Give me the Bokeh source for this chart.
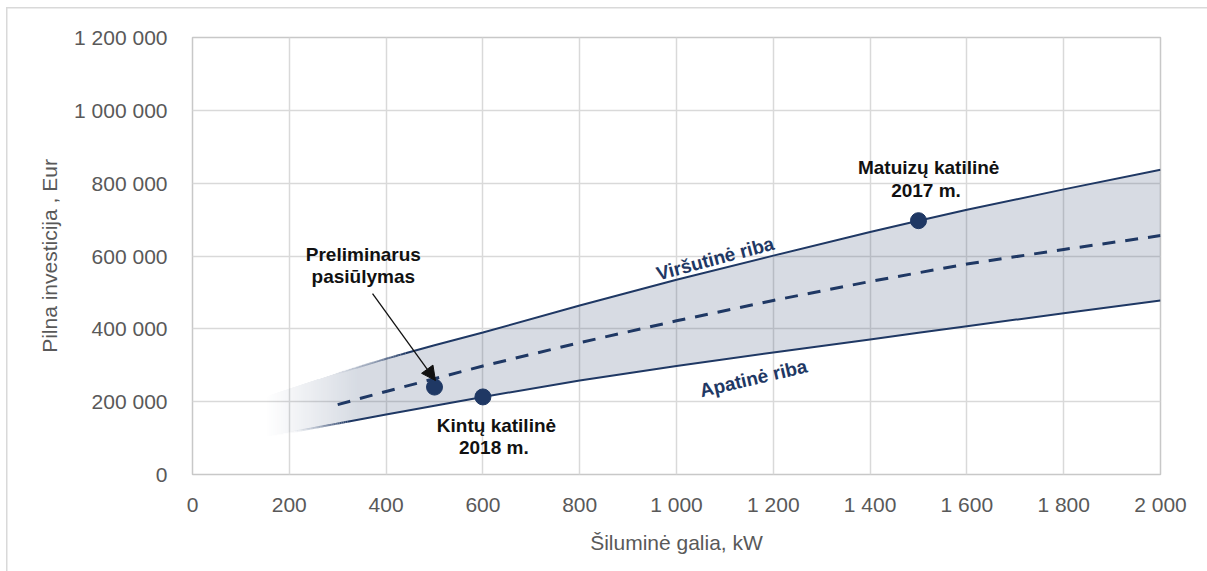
import numpy as np
from bokeh.plotting import figure
from bokeh.models import Range1d, FixedTicker, Arrow, NormalHead
from bokeh.core.properties import value
from bokeh.embed import file_html
from bokeh.resources import INLINE

# ---- data ----
band_x = [150, 200, 300, 400, 500, 600, 800, 1000, 1200, 1400, 1500, 1600, 1800, 2000]
upper = [212e3, 235e3, 278e3, 318e3, 355e3, 390e3, 464e3, 535e3, 601e3, 666e3, 697e3, 727e3, 783e3, 837e3]
lower = [102e3, 115e3, 140e3, 165e3, 189e3, 213e3, 258e3, 298e3, 335e3, 371e3, 389e3, 407e3, 443e3, 478e3]

mid_x = [300, 400, 600, 800, 1000, 1200, 1400, 1600, 1800, 2000]
mid = [192e3, 228e3, 298e3, 362e3, 422e3, 478e3, 530e3, 578e3, 618e3, 656e3]

pts_x = [500, 600, 1500]
pts_y = [240e3, 213e3, 697e3]

lbl_x = [353, 353, 628, 628, 1521, 1521]
lbl_y = [604e3, 544e3, 135e3, 74e3, 843e3, 780e3]
lbl_t = ["Preliminarus", "pasiūlymas", "Kintų katilinė", "2018  m.", "Matuizų katilinė", "2017  m."]

riba_x = [1080, 1159]
riba_y = [593e3, 264e3]
riba_t = ["Viršutinė riba", "Apatinė riba"]
riba_ang = [0.262, 0.232]

arrow_from = (372, 497e3)
arrow_to = (502, 258e3)

x_ticks = [0, 200, 400, 600, 800, 1000, 1200, 1400, 1600, 1800, 2000]
x_tick_labels = ["0", "200", "400", "600", "800", "1 000", "1 200", "1 400", "1 600", "1 800", "2 000"]
y_ticks = [0, 200000, 400000, 600000, 800000, 1000000, 1200000]
y_tick_labels = ["0", "200 000", "400 000", "600 000", "800 000", "1 000 000", "1 200 000"]

NAVY = "#1F3864"
GRID = "#D9D9D9"
TXT = "#595959"
FONT = "Liberation Sans"

p = figure(width=1207, height=571, output_backend="svg", toolbar_location=None,
           x_range=Range1d(0, 2000), y_range=Range1d(0, 1200000),
           min_border_left=192, min_border_right=47, min_border_top=37, min_border_bottom=97)
p.background_fill_color = "white"
p.border_fill_color = None
p.styles = {
    "background": "linear-gradient(#D9D9D9, #D9D9D9) 6px 7px / 1.5px 100% no-repeat, "
                  "linear-gradient(#D9D9D9, #D9D9D9) 6px 7px / 100% 1.5px no-repeat, white"
}
p.outline_line_color = "#C8C8C8"
p.outline_line_width = 1.5

for ax, ticks, labels in ((p.xaxis, x_ticks, x_tick_labels), (p.yaxis, y_ticks, y_tick_labels)):
    ax.ticker = FixedTicker(ticks=ticks)
    ax.major_label_overrides = {t: l for t, l in zip(ticks, labels)}
    ax.axis_line_color = None
    ax.major_tick_line_color = None
    ax.minor_tick_line_color = None
    ax.major_label_text_font = FONT
    ax.major_label_text_font_size = "21px"
    ax.major_label_text_color = TXT
    ax.axis_label_text_font = FONT
    ax.axis_label_text_font_size = "21px"
    ax.axis_label_text_font_style = "normal"
    ax.axis_label_text_color = TXT

p.xaxis.axis_label = "Šiluminė galia, kW"
p.yaxis.axis_label = "Pilna investicija , Eur"
p.xaxis.major_label_standoff = 12
p.xaxis.axis_label_standoff = 12
p.yaxis.major_label_standoff = 19
p.yaxis.axis_label_standoff = 10

p.xgrid.grid_line_color = GRID
p.ygrid.grid_line_color = GRID
p.xgrid.grid_line_width = 1.5
p.ygrid.grid_line_width = 1.5

BAND_ALPHA = 0.18
bx = np.array(band_x, float)
bu = np.array(upper, float)
bl = np.array(lower, float)

# fading part of the band (gradient rendered as an RGBA image)
fx0, fx1, fy1 = 140.0, 360.0, 400e3
W, H = 213, 292
xc = fx0 + (np.arange(W) + 0.5) * (fx1 - fx0) / W
yc = (np.arange(H) + 0.5) * fy1 / H
uu = np.interp(xc, bx, bu, left=np.nan)
ll = np.interp(xc, bx, bl, left=np.nan)
fade = np.clip((xc - 150.0) / (340.0 - 150.0), 0, 1)
inside = (yc[:, None] >= ll[None, :]) & (yc[:, None] <= uu[None, :])
img = np.zeros((H, W), dtype=np.uint32)
view = img.view(dtype=np.uint8).reshape((H, W, 4))
view[:, :, 0] = 31
view[:, :, 1] = 56
view[:, :, 2] = 100
view[:, :, 3] = np.where(inside, np.round(255 * BAND_ALPHA * fade[None, :]), 0).astype(np.uint8)
p.image_rgba(image=[img], x=fx0, y=0, dw=fx1 - fx0, dh=fy1)

# solid part of the band
sx = np.concatenate([[fx1], bx[bx > fx1]])
su = np.interp(sx, bx, bu)
sl = np.interp(sx, bx, bl)
p.varea(x=sx, y1=sl, y2=su, fill_color=NAVY, fill_alpha=BAND_ALPHA)


def fading_line(ys, a, b, n=30):
    xs = np.linspace(a, b, n + 1)
    yv = np.interp(xs, bx, ys)
    al = (np.arange(n) + 0.5) / n
    p.segment(x0=xs[:-1], y0=yv[:-1], x1=xs[1:], y1=yv[1:],
              line_color=NAVY, line_width=2, line_alpha=al ** 1.5)
    m = bx > b
    p.line(np.concatenate([[b], bx[m]]), np.concatenate([[yv[-1]], ys[m]]),
           line_color=NAVY, line_width=2)


fading_line(bu, 290, 440)
fading_line(bl, 200, 320)
p.line(mid_x, mid, line_color=NAVY, line_width=3, line_dash="13 10")

# points
p.scatter(pts_x, pts_y, size=16, color=NAVY)

# arrow
p.add_layout(Arrow(end=NormalHead(size=14, fill_color="#111111", line_color="#111111"),
                   x_start=arrow_from[0], y_start=arrow_from[1],
                   x_end=arrow_to[0], y_end=arrow_to[1],
                   line_color="#111111", line_width=1.3))

# labels
p.text(x=lbl_x, y=lbl_y, text=lbl_t, text_font=value(FONT), text_font_style="bold",
       text_font_size="19px", text_align="center", text_baseline="middle", text_color="#111111")
p.text(x=riba_x, y=riba_y, text=riba_t, angle=riba_ang, text_font=value(FONT), text_font_style="bold",
       text_font_size="19px", text_align="center", text_baseline="middle", text_color=NAVY)

open("out.html", "w").write(file_html(p, INLINE))
